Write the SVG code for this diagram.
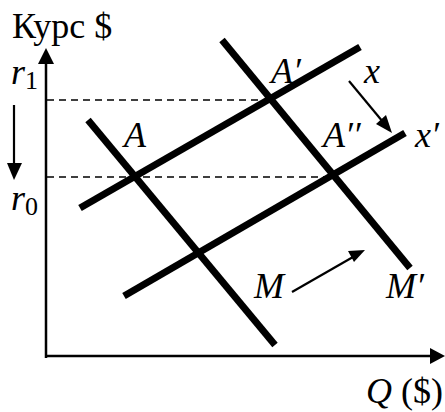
<svg xmlns="http://www.w3.org/2000/svg" width="445" height="412" viewBox="0 0 445 412">
<style>
.thick{stroke:#000;stroke-width:7;fill:none}
.axis{stroke:#000;stroke-width:2.5;fill:none}
.dash{stroke:#000;stroke-width:1.5;stroke-dasharray:7,5;fill:none}
.thin{stroke:#000;stroke-width:2.2;fill:none}
</style>
<rect width="445" height="412" fill="#fff"/>
<g id="axes">
<line class="axis" x1="46" y1="358" x2="46" y2="62"/>
<polygon points="46,48 38,64 54,64"/>
<line class="axis" x1="45" y1="356" x2="432" y2="356"/>
<polygon points="445,356 430,348 430,364"/>
</g>
<g id="connectors">
<line class="dash" x1="47" y1="100" x2="270" y2="100"/>
<line class="dash" x1="47" y1="177" x2="333" y2="177"/>
<line class="thin" x1="14" y1="105" x2="14" y2="166"/>
<polygon points="14,180 7,163 22,163"/>
<line class="thin" x1="349" y1="81" x2="383" y2="122"/>
<polygon points="392,133 376,124 386,115"/>
<line class="thin" x1="292" y1="292" x2="353" y2="257"/>
<polygon points="365,250 348,251 354,262"/>
</g>
<g id="line-x"><line class="thick" x1="80" y1="208" x2="360" y2="47"/></g>
<g id="line-x2"><line class="thick" x1="124" y1="296" x2="405" y2="133"/></g>
<g id="line-M"><line class="thick" x1="88" y1="120" x2="275" y2="345"/></g>
<g id="line-M2"><line class="thick" x1="222" y1="40" x2="410" y2="268"/></g>
<g id="labels" style="font-family:'Liberation Serif','Times New Roman',serif;font-size:36px" fill="#000">
<text x="12" y="38">Курс $</text>
<text x="11" y="84" style="font-style:italic">r<tspan style="font-size:26px;font-style:normal" dy="5">1</tspan></text>
<text x="11" y="210" style="font-style:italic">r<tspan style="font-size:26px;font-style:normal" dy="5">0</tspan></text>
<text x="124" y="147" style="font-style:italic">A</text>
<text x="271" y="83" style="font-style:italic">A′</text>
<text x="323" y="147" style="font-style:italic">A′′</text>
<text x="364" y="83" style="font-style:italic">x</text>
<text x="415" y="147" style="font-style:italic">x′</text>
<text x="254" y="298" style="font-style:italic">M</text>
<text x="386" y="298" style="font-style:italic">M′</text>
<text x="366" y="403"><tspan style="font-style:italic">Q</tspan> ($)</text>
</g>
</svg>
